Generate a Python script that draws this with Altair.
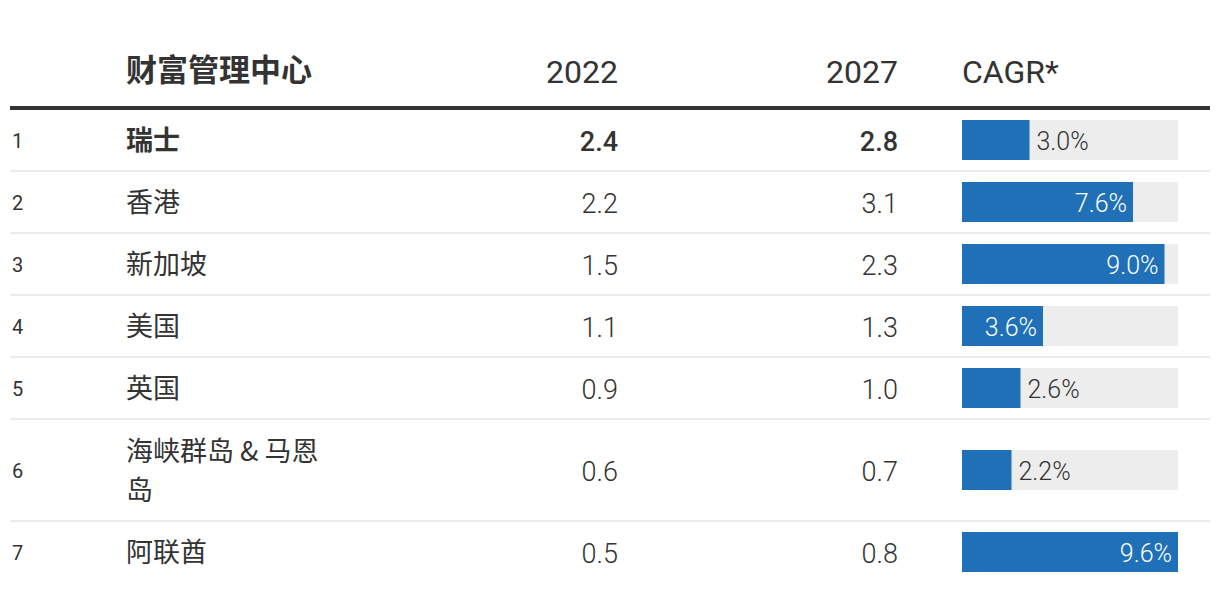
import altair as alt
import pandas as pd

# ---- data ----
ranks = [1, 2, 3, 4, 5, 6, 7]
names = ["瑞士", "香港", "新加坡", "美国", "英国", "海峡群岛 & 马恩\n岛", "阿联酋"]
v2022 = [2.4, 2.2, 1.5, 1.1, 0.9, 0.6, 0.5]
v2027 = [2.8, 3.1, 2.3, 1.3, 1.0, 0.7, 0.8]
cagr = [3.0, 7.6, 9.0, 3.6, 2.6, 2.2, 9.6]
headers = ["财富管理中心", "2022", "2027", "CAGR*"]

# ---- layout helpers (row heights depend on number of text lines) ----
W, H = 1204, 576
TOP = 101
BASE_ROW = 62
EXTRA_LINE = 40
LINE_H = 39
lines = [n.count("\n") + 1 for n in names]
heights = [BASE_ROW + EXTRA_LINE * (l - 1) for l in lines]
tops = []
t = TOP
for h in heights:
    tops.append(t)
    t += h

df = pd.DataFrame({
    "rank": ranks,
    "name": names,
    "lines": lines,
    "v2022": v2022,
    "v2027": v2027,
    "cagr": cagr,
    "top": tops,
    "h": heights,
})
df["yc"] = df["top"] + df["h"] / 2
df["bottom"] = df["top"] + df["h"]
df["y0"] = df["yc"] - 20
df["y1"] = df["yc"] + 20
df["base"] = 0.0
df["full"] = max(cagr)
df["label"] = df["cagr"].map(lambda v: f"{v:.1f}%")

yscale = alt.Scale(domain=[0, H], range=[0, H])
xscale = alt.Scale(domain=[0, max(cagr)], range=[954, 1170])

CJK = "Noto Sans CJK SC"
NUM = "Roboto"
DARK = "#333333"

base = alt.Chart(df)

y_enc = alt.Y("yc:Q", scale=yscale, axis=None)

# separators
seps = base.transform_filter(alt.datum.rank < 7).mark_rule(color="#ebebeb", strokeWidth=2).encode(
    y=alt.Y("bottom:Q", scale=yscale, axis=None),
    x=alt.value(2), x2=alt.value(1202),
)
thick = alt.Chart(pd.DataFrame({"v": [TOP - 1]})).mark_rule(color=DARK, strokeWidth=4).encode(
    y=alt.Y("v:Q", scale=yscale, axis=None),
    x=alt.value(2), x2=alt.value(1202),
)

rank_t = base.mark_text(align="left", baseline="middle", dy=2, font=NUM, fontSize=20, color=DARK).encode(
    x=alt.value(4), y=y_enc, text="rank:N"
)

name_bold = base.transform_filter(alt.datum.rank == 1).mark_text(
    align="left", baseline="middle", dy=2, font=CJK, fontSize=27, fontWeight="bold", color=DARK
).encode(x=alt.value(118), y=y_enc, text="name:N")
name_reg = base.transform_filter((alt.datum.rank > 1) & (alt.datum.lines == 1)).mark_text(
    align="left", baseline="middle", dy=2, font=CJK, fontSize=27, fontWeight=400, color=DARK
).encode(x=alt.value(118), y=y_enc, text="name:N")
name_multi = base.transform_filter(alt.datum.lines == 2).mark_text(
    align="left", baseline="middle", dy=2 - LINE_H / 2, font=CJK, fontSize=27, fontWeight=400, color=DARK,
    lineBreak="\n", lineHeight=LINE_H
).encode(x=alt.value(118), y=y_enc, text="name:N")

def num_layers(field, xpos):
    b = base.transform_filter(alt.datum.rank == 1).mark_text(
        align="right", baseline="middle", dy=3, font=NUM, fontSize=27, fontWeight=500, color=DARK
    ).encode(x=alt.value(xpos), y=y_enc, text=alt.Text(f"{field}:Q", format=".1f"))
    r = base.transform_filter(alt.datum.rank > 1).mark_text(
        align="right", baseline="middle", dy=3, font=NUM, fontSize=27, fontWeight=300, color=DARK
    ).encode(x=alt.value(xpos), y=y_enc, text=alt.Text(f"{field}:Q", format=".1f"))
    return b + r

n22 = num_layers("v2022", 610)
n27 = num_layers("v2027", 890)

bg = base.mark_rect(color="#ededed").encode(
    x=alt.X("base:Q", scale=xscale, axis=None), x2="full:Q",
    y=alt.Y("y0:Q", scale=yscale, axis=None), y2="y1:Q",
)
bar = base.mark_rect(color="#2070b8").encode(
    x=alt.X("base:Q", scale=xscale, axis=None), x2="cagr:Q",
    y=alt.Y("y0:Q", scale=yscale, axis=None), y2="y1:Q",
)
lab_in = base.transform_filter(alt.datum.cagr >= 3.3).mark_text(
    align="right", baseline="middle", dx=-6, dy=2, font=NUM, fontSize=25, fontWeight=300, color="white"
).encode(x=alt.X("cagr:Q", scale=xscale, axis=None), y=y_enc, text="label:N")
lab_out = base.transform_filter(alt.datum.cagr < 3.3).mark_text(
    align="left", baseline="middle", dx=7, dy=2, font=NUM, fontSize=25, fontWeight=300, color=DARK
).encode(x=alt.X("cagr:Q", scale=xscale, axis=None), y=y_enc, text="label:N")

hdr_df = pd.DataFrame({"h": headers})
HY = 64
h_name = alt.Chart(hdr_df).transform_filter(alt.datum.h == headers[0]).mark_text(
    align="left", baseline="middle", font=CJK, fontSize=31, fontWeight="bold", color=DARK
).encode(x=alt.value(118), y=alt.value(HY), text="h:N")
h_22 = alt.Chart(hdr_df).transform_filter(alt.datum.h == headers[1]).mark_text(
    align="right", baseline="middle", dy=1, font=NUM, fontSize=32, color=DARK
).encode(x=alt.value(610), y=alt.value(HY), text="h:N")
h_27 = alt.Chart(hdr_df).transform_filter(alt.datum.h == headers[2]).mark_text(
    align="right", baseline="middle", dy=1, font=NUM, fontSize=32, color=DARK
).encode(x=alt.value(890), y=alt.value(HY), text="h:N")
h_c = alt.Chart(hdr_df).transform_filter(alt.datum.h == headers[3]).mark_text(
    align="left", baseline="middle", dy=1, font=NUM, fontSize=32, color=DARK
).encode(x=alt.value(954), y=alt.value(HY), text="h:N")

chart = alt.layer(
    seps, thick, bg, bar, lab_in, lab_out, rank_t, name_bold, name_reg, name_multi, n22, n27,
    h_name, h_22, h_27, h_c
).properties(
    width=W, height=H,
    autosize=alt.AutoSizeParams(type="fit", contains="padding"),
    padding=0,
    background="white",
).configure_view(stroke=None)

chart.save("out.html", embed_options={"renderer": "svg", "actions": False})
